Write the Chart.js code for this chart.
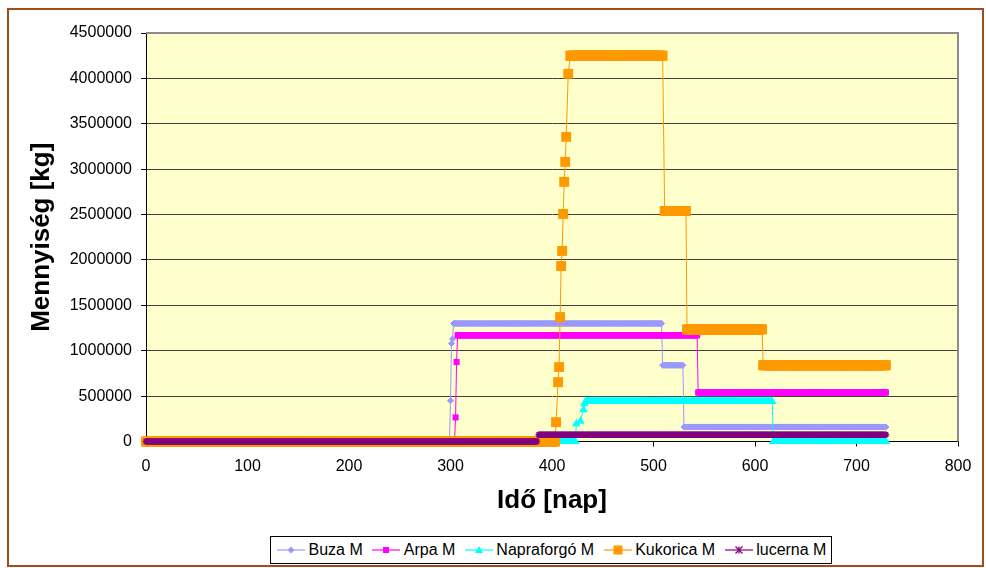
<!DOCTYPE html>
<html>
<head>
<meta charset="utf-8">
<script src="https://cdn.jsdelivr.net/npm/chart.js@4.4.0/dist/chart.umd.min.js"></script>
<style>
html,body{margin:0;padding:0;background:#fff;}
#wrap{position:relative;width:986px;height:568px;overflow:hidden;background:#fff;}
#c{position:absolute;left:0;top:0;}
#frame{position:absolute;left:7px;top:8px;width:973px;height:555px;border:2px solid #A34A1E;pointer-events:none;}
#legend{position:absolute;left:270px;top:536px;width:560px;height:26px;border:1px solid #000;display:flex;align-items:center;
  font-family:"Liberation Sans",Arial,sans-serif;font-size:16px;color:#000;background:#fff;padding-left:6px;box-sizing:border-box;width:562px;height:28px;}
.it{display:flex;align-items:center;margin-right:9.5px;white-space:nowrap;}
.it svg{margin-right:3.5px;}
</style>
</head>
<body>
<div id="wrap">
  <canvas id="c" width="986" height="568"></canvas>
  <div id="frame"></div>
  <div id="legend"></div>
</div>
<script>
// ---- data ----
const seriesNames = ["Buza M", "Arpa M", "Napraforgó M", "Kukorica M", "lucerna M"];
const xTicks = [0, 100, 200, 300, 400, 500, 600, 700, 800];
const yTicks = [0, 500000, 1000000, 1500000, 2000000, 2500000, 3000000, 3500000, 4000000, 4500000];
// [first day, last day, value] – value held for every day in the range
const buzaSteps = [[0,299,0],[300,300,450000],[301,301,1080000],[302,302,1130000],[303,508,1300000],[509,529,840000],[530,729,160000]];
const arpaSteps = [[0,304,0],[305,305,265000],[306,306,875000],[307,543,1170000],[544,729,540000]];
const napraSteps = [[0,423,0],[424,424,195000],[428,428,224000],[431,431,350000],[432,432,416000],[433,617,441000],[618,729,0]];
const kukoricaSteps = [[0,403,0],[404,404,213000],[406,406,654000],[407,407,820000],[408,408,1371000],[409,409,1933000],[410,410,2099000],
  [411,411,2507000],[412,412,2860000],[413,413,3080000],[414,414,3356000],[416,416,4051000],[418,509,4250000],[511,532,2540000],
  [533,607,1235000],[608,729,840000]];
const lucernaSteps = [[0,385,0],[387,729,75000]];

function expand(steps){
  const pts = [];
  for (const [a,b,v] of steps){ for (let d=a; d<=b; d++) pts.push({x:d, y:v}); }
  return pts;
}

const colors = ["#9999FF", "#FF00FF", "#00FFFF", "#FF9900", "#800080"];
const styles = ["rectRot", "rect", "triangle", "rect", "star"];
const radii = [3, 4.3, 5, 7, 3.3];
const borderW = [1, 0, 0, 0, 1.6];
const stepsAll = [buzaSteps, arpaSteps, napraSteps, kukoricaSteps, lucernaSteps];
const orders = [4, 3, 2, 1, 0];

const datasets = seriesNames.map((name, i) => ({
  label: name,
  data: expand(stepsAll[i]),
  borderColor: colors[i],
  backgroundColor: colors[i],
  borderWidth: 1,
  pointStyle: styles[i],
  pointRadius: radii[i],
  pointBorderWidth: borderW[i],
  pointBackgroundColor: colors[i],
  pointBorderColor: colors[i],
  pointHoverRadius: radii[i],
  tension: 0,
  fill: false,
  clip: false,
  order: orders[i]
}));

const plotBg = {
  id: 'plotBg',
  beforeDraw(chart){
    const {ctx, chartArea:{left, top, right, bottom}} = chart;
    ctx.save();
    ctx.fillStyle = '#FFFFCC';
    ctx.fillRect(left, top, right-left, bottom-top);
    ctx.restore();
  },
  afterDraw(chart){
    const {ctx, chartArea:{left, top, right, bottom}} = chart;
    ctx.save();
    ctx.strokeStyle = '#8c8c8c';
    ctx.lineWidth = 2;
    ctx.beginPath();
    ctx.moveTo(left, top);
    ctx.lineTo(right, top);
    ctx.lineTo(right, bottom);
    ctx.stroke();
    ctx.restore();
  }
};

const FONT = "'Liberation Sans', Arial, sans-serif";

new Chart(document.getElementById('c'), {
  type: 'line',
  data: { datasets },
  options: {
    responsive: false,
    animation: false,
    events: [],
    layout: { padding: { left: 10, right: 28, top: 33, bottom: 0 } },
    plugins: { legend: { display: false }, tooltip: { enabled: false } },
    scales: {
      x: {
        type: 'linear', min: 0, max: 800,
        afterBuildTicks: s => { s.ticks = xTicks.map(v => ({value: v})); },
        afterFit: s => { s.height = 126.5; },
        ticks: { color: '#000', padding: 10, font: { family: FONT, size: 16 }, callback: v => String(v), maxRotation: 0 },
        grid: { drawOnChartArea: false, drawTicks: true, tickLength: 5, tickColor: '#000' },
        border: { display: true, color: '#000', width: 1 },
        title: { display: true, text: 'Idő [nap]', color: '#000', font: { family: FONT, size: 26, weight: 'bold' }, padding: { top: 0, bottom: 52 } }
      },
      y: {
        min: 0, max: 4500000,
        afterBuildTicks: s => { s.ticks = yTicks.map(v => ({value: v})); },
        afterFit: s => { s.width = 136; },
        ticks: { color: '#000', padding: 9, font: { family: FONT, size: 16 }, callback: v => String(v) },
        grid: {
          color: c => (c.tick && c.tick.value === 4500000) ? 'rgba(0,0,0,0)' : '#404040',
          lineWidth: 1, drawTicks: true, tickLength: 5, tickColor: '#000'
        },
        border: { display: true, color: '#000', width: 1 },
        title: { display: true, text: 'Mennyiség [kg]', color: '#000', font: { family: FONT, size: 26, weight: 'bold' }, padding: { top: 16, bottom: 0 } }
      }
    }
  },
  plugins: [plotBg]
});

// ---- legend (HTML, real text) ----
function symbol(i){
  const c = colors[i];
  let m = '';
  if (i === 0) m = `<polygon points="10.5,7 14,3.5 17.5,7 14,10.5" fill="${c}"/>`;
  else if (i === 1) m = `<rect x="11" y="4" width="6" height="6" fill="${c}"/>`;
  else if (i === 2) m = `<polygon points="14,3 18,10 10,10" fill="${c}"/>`;
  else if (i === 3) m = `<rect x="9.5" y="2.5" width="9" height="9" fill="${c}"/>`;
  else m = `<g stroke="${c}" stroke-width="1.3"><line x1="14" y1="3.5" x2="14" y2="10.5"/><line x1="10.5" y1="3.5" x2="17.5" y2="10.5"/><line x1="17.5" y1="3.5" x2="10.5" y2="10.5"/></g>`;
  return `<svg width="28" height="14" viewBox="0 0 28 14"><line x1="0" y1="7" x2="28" y2="7" stroke="${c}" stroke-width="1.2"/>${m}</svg>`;
}
document.getElementById('legend').innerHTML = seriesNames.map((n, i) =>
  `<div class="it">${symbol(i)}<span>${n}</span></div>`).join('');
</script>
</body>
</html>
